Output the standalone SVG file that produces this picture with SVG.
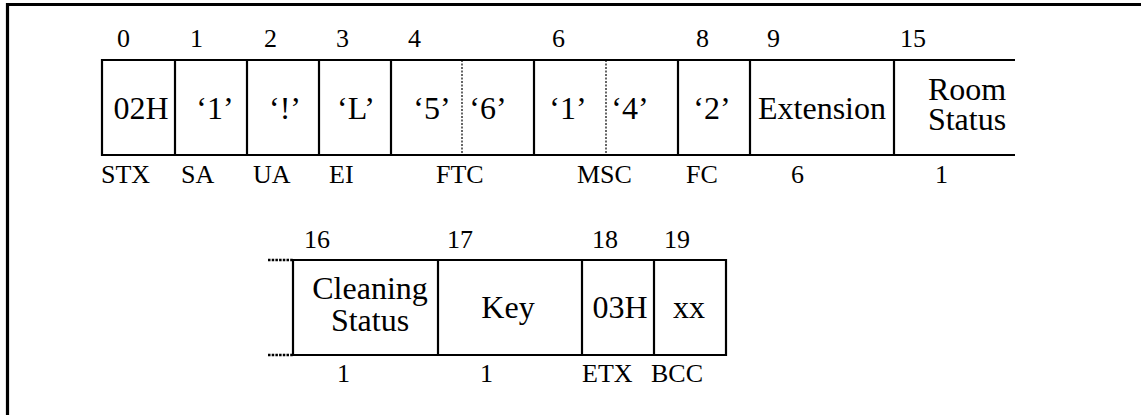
<svg xmlns="http://www.w3.org/2000/svg" width="1141" height="415" viewBox="0 0 1141 415">
  <style>
    text { font-family: "Liberation Serif", "Times New Roman", serif; fill: #000; }
    .idx { font-size: 26px; }
    .lab { font-size: 26px; }
    .val { font-size: 32px; text-anchor: middle; }
    .edge { stroke: #000; stroke-width: 2.2; fill: none; }
    .dot { stroke: #000; stroke-width: 1.2; stroke-dasharray: 2 1.5; fill: none; }
    .stub { stroke: #000; stroke-width: 2.4; stroke-dasharray: 2.5 1.2; fill: none; }
    .frame { stroke: #000; stroke-width: 3.2; fill: none; }
  </style>
  <rect x="0" y="0" width="1141" height="415" fill="#fff"/>
  <g id="frame">
    <line class="frame" x1="6" y1="4.5" x2="1141" y2="4.5"/>
    <line class="frame" x1="7.5" y1="3" x2="7.5" y2="415"/>
  </g>

  <g id="row1-outline">
    <line class="edge" x1="102" y1="60" x2="1015" y2="60"/>
    <line class="edge" x1="102" y1="155" x2="1015" y2="155"/>
  </g>
  <g id="stx">
    <line class="edge" x1="102" y1="59" x2="102" y2="156"/>
    <text class="idx" x="117" y="47">0</text>
    <text class="val" x="141" y="119">02H</text>
    <text class="lab" x="101" y="183">STX</text>
  </g>
  <g id="sa">
    <line class="edge" x1="175" y1="60" x2="175" y2="155"/>
    <text class="idx" x="190" y="47">1</text>
    <text class="val" x="215" y="119">‘1’</text>
    <text class="lab" x="181" y="183">SA</text>
  </g>
  <g id="ua">
    <line class="edge" x1="247" y1="60" x2="247" y2="155"/>
    <text class="idx" x="264" y="47">2</text>
    <text class="val" x="285" y="119">‘!’</text>
    <text class="lab" x="253" y="183">UA</text>
  </g>
  <g id="ei">
    <line class="edge" x1="319" y1="60" x2="319" y2="155"/>
    <text class="idx" x="336" y="47">3</text>
    <text class="val" x="356" y="119">‘L’</text>
    <text class="lab" x="329" y="183">EI</text>
  </g>
  <g id="ftc">
    <line class="edge" x1="391" y1="60" x2="391" y2="155"/>
    <line class="dot" x1="462" y1="60" x2="462" y2="155"/>
    <text class="idx" x="408" y="47">4</text>
    <text class="val" x="432" y="119">‘5’</text>
    <text class="val" x="488" y="119">‘6’</text>
    <text class="lab" x="436" y="183">FTC</text>
  </g>
  <g id="msc">
    <line class="edge" x1="534" y1="60" x2="534" y2="155"/>
    <line class="dot" x1="606" y1="60" x2="606" y2="155"/>
    <text class="idx" x="552" y="47">6</text>
    <text class="val" x="568" y="119">‘1’</text>
    <text class="val" x="630" y="119">‘4’</text>
    <text class="lab" x="577" y="183">MSC</text>
  </g>
  <g id="fc">
    <line class="edge" x1="678" y1="60" x2="678" y2="155"/>
    <text class="idx" x="696" y="47">8</text>
    <text class="val" x="712" y="119">‘2’</text>
    <text class="lab" x="686" y="183">FC</text>
  </g>
  <g id="extension">
    <line class="edge" x1="750" y1="60" x2="750" y2="155"/>
    <text class="idx" x="767" y="47">9</text>
    <text class="val" x="822" y="119">Extension</text>
    <text class="lab" x="791" y="183">6</text>
  </g>
  <g id="room-status">
    <line class="edge" x1="894" y1="60" x2="894" y2="155"/>
    <text class="idx" x="900" y="47">15</text>
    <text class="val" x="967" y="100">Room</text>
    <text class="val" x="967" y="130">Status</text>
    <text class="lab" x="935" y="183">1</text>
  </g>

  <g id="row2-outline">
    <line class="edge" x1="293" y1="260" x2="726" y2="260"/>
    <line class="edge" x1="293" y1="355" x2="726" y2="355"/>
    <line class="stub" x1="268" y1="260" x2="293" y2="260"/>
    <line class="stub" x1="268" y1="355" x2="293" y2="355"/>
  </g>
  <g id="cleaning-status">
    <line class="edge" x1="293" y1="259" x2="293" y2="356"/>
    <text class="idx" x="304" y="248">16</text>
    <text class="val" x="370" y="299">Cleaning</text>
    <text class="val" x="370" y="331">Status</text>
    <text class="lab" x="337" y="382">1</text>
  </g>
  <g id="key">
    <line class="edge" x1="438" y1="260" x2="438" y2="355"/>
    <text class="idx" x="447" y="248">17</text>
    <text class="val" x="508" y="318">Key</text>
    <text class="lab" x="480" y="382">1</text>
  </g>
  <g id="etx">
    <line class="edge" x1="582" y1="260" x2="582" y2="355"/>
    <text class="idx" x="592" y="248">18</text>
    <text class="val" x="620" y="318">03H</text>
    <text class="lab" x="582" y="382">ETX</text>
  </g>
  <g id="bcc">
    <line class="edge" x1="654" y1="260" x2="654" y2="355"/>
    <line class="edge" x1="726" y1="259" x2="726" y2="356"/>
    <text class="idx" x="664" y="248">19</text>
    <text class="val" x="689" y="318">xx</text>
    <text class="lab" x="651" y="382">BCC</text>
  </g>
</svg>
